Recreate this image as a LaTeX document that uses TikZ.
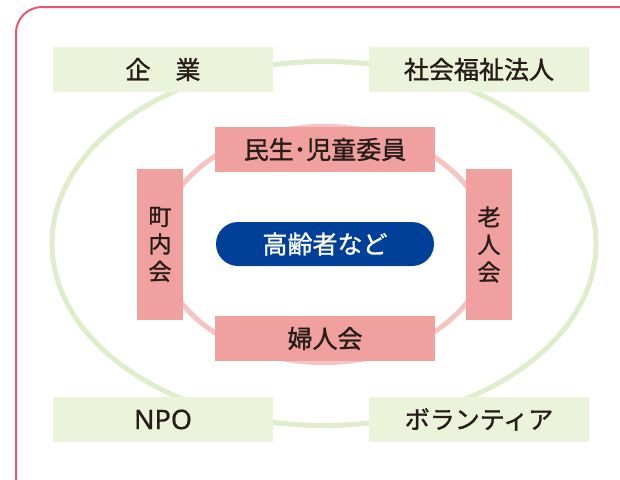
\documentclass[tikz,border=0pt]{standalone}
\usepackage{fontspec}
\usepackage{tikz}
\usetikzlibrary{calc}
\usetikzlibrary{positioning}
\newfontfamily\jpfont[FakeBold=1.2]{Noto Sans CJK JP}
\newfontfamily\latinfont[FakeBold=0.6]{Noto Sans}
\definecolor{framered}{RGB}{232, 88, 108}
\definecolor{ringgreen}{RGB}{224, 237, 204}
\definecolor{boxgreen}{RGB}{235, 243, 218}
\definecolor{ringpink}{RGB}{245, 196, 194}
\definecolor{boxpink}{RGB}{240, 160, 158}
\definecolor{navyblue}{RGB}{0, 64, 152}
\definecolor{inkdark}{RGB}{38, 28, 24}
\tikzset{
    greenbox/.style={fill=boxgreen, text=inkdark, minimum width=220pt, minimum height=45pt, inner sep=0pt,
                     font=\jpfont\fontsize{25}{27}\selectfont},
    pinkbox/.style={fill=boxpink, text=inkdark, minimum width=220pt, minimum height=45pt, inner sep=0pt,
                    font=\jpfont\fontsize{25}{27}\selectfont},
    pinkcol/.style={pinkbox, minimum width=46pt, minimum height=151pt, align=center,
                    font=\jpfont\fontsize{23}{27.5}\selectfont}
}
\begin{document}
\begin{tikzpicture}[x=1pt, y=-1pt]
            \useasboundingbox (0,0) rectangle (620,479);
            % Outer frame
            \begin{scope}
                \clip (0,0) rectangle (620,479);
                \draw[framered, line width=2pt, rounded corners=26pt] (16.00, 7.00) rectangle (660.00, 520.00);
            \end{scope}
            % Rings
            \draw[ringgreen, line width=5pt] (324.00, 243.50) ellipse (272pt and 182pt);
            \draw[ringpink,  line width=5pt] (324.00, 244.50) ellipse (164pt and 118pt);
            % Outer partners
            \node[greenbox] (kigyo)   at (163.00,  69.50) {企　業};
            \node[greenbox] (shafuku) at (479.00,  69.50) {社会福祉法人};
            \node[greenbox, font=\latinfont\fontsize{27}{27}\selectfont] (npo) at (163.00, 419.50) {NPO};
            \node[greenbox] (volun)   at (479.00, 419.50) {ボランティア};
            % Local groups
            \node[pinkbox] (minsei)  at (325.00, 149.50) {民生･児童委員};
            \node[pinkbox] (fujin)   at (325.00, 338.50) {婦人会};
            \node[pinkcol] (chonai)  at (160.00, 244.50) {町\\内\\会};
            \node[pinkcol] (rojin)   at (489.00, 244.50) {老\\人\\会};
            % Centre
            \node[fill=navyblue, text=white, rounded corners=22pt, minimum width=218pt, minimum height=44pt,
                  inner sep=0pt, font=\jpfont\fontsize{25}{27}\selectfont] (korei) at (325.00, 244.00) {高齢者など};
        \end{tikzpicture}
\end{document}
